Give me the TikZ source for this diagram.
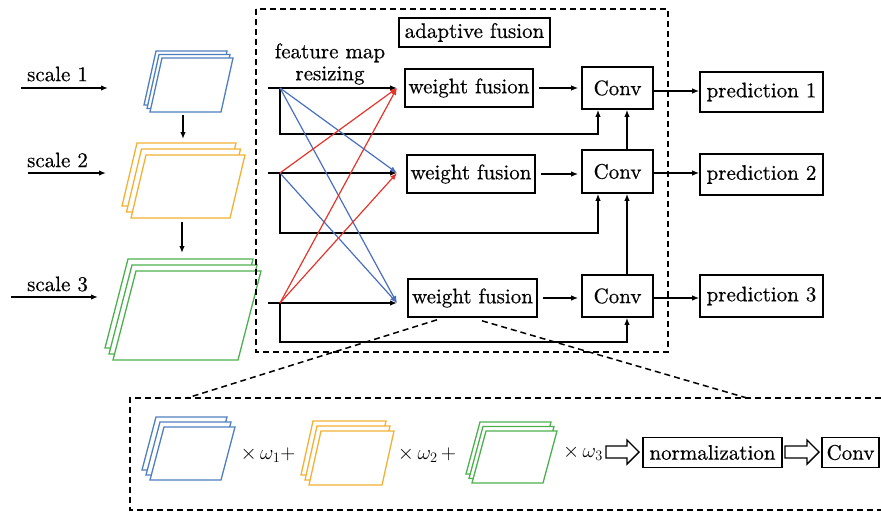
\documentclass[tikz,border=0pt]{standalone}
\usepackage{fontspec}
\setmainfont{lmroman10-regular}[Extension=.otf, FakeBold=0.5]
\usetikzlibrary{arrows.meta}
\definecolor{cblue}{HTML}{4F7FBF}
\definecolor{cyel}{HTML}{F2B134}
\definecolor{cgreen}{HTML}{4DB04F}
\definecolor{lred}{HTML}{E5352B}
\definecolor{lblue}{HTML}{4A6FC0}
\newcommand\fmstack[8]{%
  \foreach \k in {2,1,0}{%
    \draw[#1, line width=1.3pt, fill=white, line join=miter]
      ({#2-\k*#7},{#3-\k*#8}) -- ++(#4,0) -- ++(#6,-#5) -- ++(-#4,0) -- cycle;
  }}
\begin{document}
\begin{tikzpicture}[x=1pt,y=-1pt,
  font=\fontsize{21}{22}\selectfont,
  box/.style={draw=black, line width=1.6pt, inner sep=0pt, fill=white},
  arr/.style={line width=1.5pt, -{Latex[length=7pt,width=5.5pt]}},
  dsh/.style={line width=1.5pt, dash pattern=on 6pt off 4pt},
  bl/.style={line width=1.2pt, draw=lblue, -{Latex[length=7pt,width=5.5pt]}, lblue},
  rl/.style={line width=1.2pt, draw=lred, -{Latex[length=7pt,width=5.5pt]}, lred},
  hollow/.style={line width=1.4pt, fill=white, line join=miter}]
\useasboundingbox (0,0) rectangle (881,512);

% left stacks
\fmstack{cblue}{150}{112}{71}{54}{12}{3}{3.5}
\fmstack{cyel}{131}{218}{99}{63}{15}{4.5}{6}
\fmstack{cgreen}{113}{360}{125}{89}{23}{4}{6}

% scale labels and inputs
\node (sc1) at (57.5,74) {scale 1};
\node (sc2) at (57.5,160) {scale 2};
\node (sc3) at (57.5,284) {scale 3};
\coordinate (i1) at (21,88);  \coordinate (e1) at (108,88);
\coordinate (i2) at (28,173); \coordinate (e2) at (106,173);
\coordinate (i3) at (11,297); \coordinate (e3) at (98,297);
\draw[arr] (i1) -- (e1);
\draw[arr] (i2) -- (e2);
\draw[arr] (i3) -- (e3);
\coordinate (d1a) at (183,115); \coordinate (d1b) at (183,139);
\coordinate (d2a) at (182,222); \coordinate (d2b) at (182,253);
\draw[arr] (d1a) -- (d1b);
\draw[arr] (d2a) -- (d2b);

% adaptive fusion frame
\draw[dsh] (256,9) rectangle (668,352);
\node[box, minimum width=151pt, minimum height=29pt] (af) at (474.5,32.5) {adaptive fusion};
\node[align=center, inner sep=0pt] (fm) at (330,64) {feature map\\resizing};

\node[box, minimum width=128pt, minimum height=38pt] (wf1) at (469,88) {weight fusion};
\node[box, minimum width=128pt, minimum height=38pt] (wf2) at (471,174) {weight fusion};
\node[box, minimum width=129pt, minimum height=38pt] (wf3) at (472.5,298) {weight fusion};
\node[box, minimum width=71pt, minimum height=42pt] (c1) at (617.5,88) {Conv};
\node[box, minimum width=71pt, minimum height=43pt] (c2) at (617.5,171.5) {Conv};
\node[box, minimum width=71pt, minimum height=42pt] (c3) at (617.5,296) {Conv};
\node[box, minimum width=123pt, minimum height=40pt] (p1) at (761.5,92) {prediction 1};
\node[box, minimum width=123pt, minimum height=41pt] (p2) at (761.5,174.5) {prediction 2};
\node[box, minimum width=123pt, minimum height=42pt] (p3) at (761.5,296) {prediction 3};

\coordinate (s1) at (268,88);  \coordinate (b1) at (280,88);  \coordinate (t1) at (397,88);
\coordinate (s2) at (268,173); \coordinate (b2) at (280,173); \coordinate (t2) at (397,173);
\coordinate (s3) at (268,303); \coordinate (b3) at (280,303); \coordinate (t3) at (397,303);

\draw[arr] (s1) -- (t1);
\draw[arr] (s2) -- (t2);
\draw[arr] (s3) -- (t3);

\coordinate (f1) at (598,134);
\coordinate (f2) at (598,233);
\coordinate (f3) at (627,342);
\draw[arr] (b1) |- (f1) -- (f1 |- c1.south);
\draw[arr] (b2) |- (f2) -- (f2 |- c2.south);
\draw[arr] (b3) |- (f3) -- (f3 |- c3.south);
\draw[arr] ([xshift=9.5pt]c3.north) -- ([xshift=9.5pt]c2.south);
\draw[arr] ([xshift=9.5pt]c2.north) -- ([xshift=9.5pt]c1.south);

\draw[bl] (b1) -- (t2);
\draw[bl] (b1) -- (t3);
\draw[bl] (b2) -- (t3);
\draw[rl] (b2) -- (t1);
\draw[rl] (b3) -- (t1);
\draw[rl] (b3) -- (t2);

\draw[arr, shorten <=5pt, shorten >=3pt] (wf1.east) -- (wf1.east -| c1.west);
\draw[arr, shorten <=5pt, shorten >=3pt] (wf2.east) -- (wf2.east -| c2.west);
\draw[arr, shorten <=5pt, shorten >=3pt] (wf3.east) -- (wf3.east -| c3.west);
\draw[arr] (c1.east |- 0,91) -- (p1.west |- 0,91);
\draw[arr] (c2.east |- 0,173) -- (p2.west |- 0,173);
\draw[arr] (c3.east |- 0,298) -- (p3.west |- 0,298);

% zoom-in box
\coordinate (z1) at (187,398);
\coordinate (z2) at (747,398);
\draw[dsh] ([xshift=-35.5pt,yshift=-2pt]wf3.south) -- (z1);
\draw[dsh] ([xshift=9.5pt,yshift=-3pt]wf3.south) -- (z2);
\draw[dsh] (881,398) -- (130,398) -- (130,510) -- (881,510);

\fmstack{cblue}{150}{480}{71}{53}{14}{4}{5}
\fmstack{cyel}{309}{485}{73}{54}{12}{4}{5}
\fmstack{cgreen}{472}{483}{71}{52}{14}{3}{4.5}

\node[font=\fontsize{20.5}{22}\selectfont] (w1) at (268,455) {$\times\,\omega_1{+}$};
\node[font=\fontsize{20.5}{22}\selectfont] (w2) at (427,455) {$\times\,\omega_2\,{+}$};
\node[font=\fontsize{20.5}{22}\selectfont] (w3) at (583,453) {$\times\,\omega_3$};

\node[box, minimum width=139pt, minimum height=30pt] (nm) at (712.5,452.5) {normalization};
\node[box, minimum width=57pt, minimum height=30pt] (cb) at (850.5,452.5) {Conv};

\draw[hollow] (606,446) -- (627,446) -- (627,440) -- (639,452) -- (627,464) -- (627,458) -- (606,458) -- cycle;
\draw[hollow] (785,446) -- (807,446) -- (807,440) -- (819,452) -- (807,464) -- (807,458) -- (785,458) -- cycle;
\end{tikzpicture}
\end{document}
